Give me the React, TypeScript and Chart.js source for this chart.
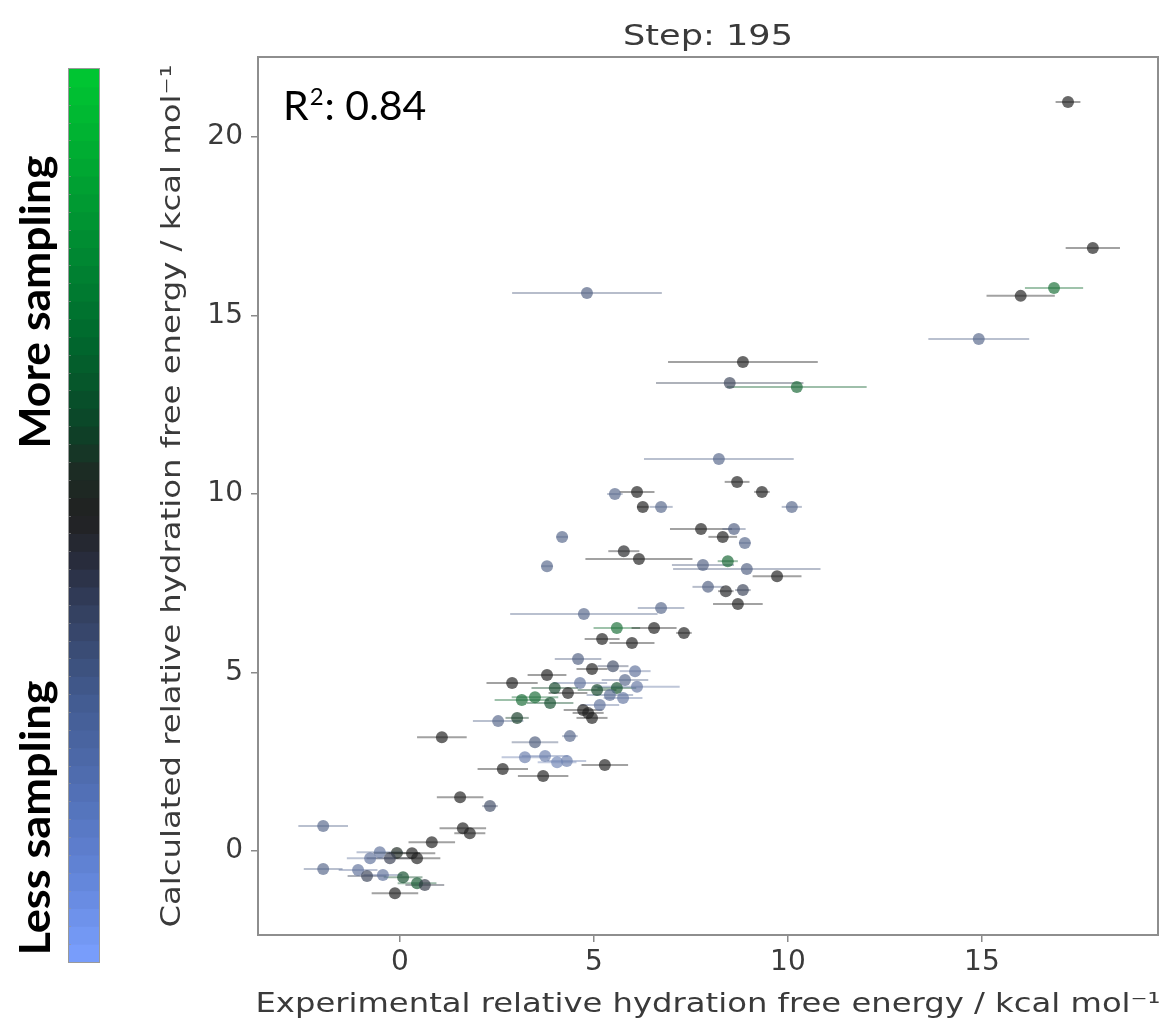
import React, { useEffect, useRef } from "react";
import { Chart, registerables } from "chart.js";

Chart.register(...registerables);

// ---------- data ----------
const expX = [
  17.22, 17.86, 16.86, 16.0, 14.92, 4.82, 8.84, 8.5, 10.23, 8.22,
  8.69, 9.33, 10.1, 5.54, 6.11, 6.26, 6.73, 4.18, 5.77, 6.16,
  3.79, 7.76, 8.61, 8.32, 8.89, 8.45, 7.81, 8.94, 9.72, 7.94,
  8.4, 8.84, 8.71, 6.73, 4.74, 5.59, 6.55, 7.32, 5.21, 5.98,
  4.59, 4.95, 5.49, 6.06, 3.79, 2.89, 4.33, 5.08, 5.59, 6.11,
  3.14, 3.87, 4.72, 4.95, 5.75, 2.53, 3.02, 1.08, 4.38, 3.48,
  3.22, 3.74, 4.3, 4.05, 5.28, 2.65, 3.69, 1.55, 2.32, -1.98,
  1.62, 1.8, 0.82, -0.52, -0.08, 0.31, -0.77, -0.26, 0.44, -1.98,
  -1.08, -0.85, -0.44, 0.08, 0.44, 0.64, -0.13, 4.85, 4.64, 5.41,
  5.8, 3.99, 3.48, 5.15,
];
const calcY = [
  20.98, 16.89, 15.77, 15.55, 14.34, 15.63, 13.7, 13.11, 13.0, 10.98,
  10.34, 10.06, 9.64, 10.0, 10.06, 9.64, 9.64, 8.8, 8.4, 8.18,
  7.98, 9.02, 9.02, 8.8, 8.63, 8.12, 8.01, 7.9, 7.7, 7.4,
  7.28, 7.31, 6.92, 6.81, 6.64, 6.25, 6.25, 6.11, 5.94, 5.83,
  5.38, 5.1, 5.18, 5.04, 4.93, 4.71, 4.43, 4.51, 4.57, 4.6,
  4.23, 4.15, 3.95, 3.73, 4.29, 3.64, 3.73, 3.19, 3.22, 3.05,
  2.63, 2.66, 2.52, 2.49, 2.41, 2.3, 2.1, 1.51, 1.26, 0.7,
  0.64, 0.5, 0.25, -0.03, -0.05, -0.06, -0.2, -0.2, -0.2, -0.5,
  -0.53, -0.7, -0.67, -0.73, -0.9, -0.95, -1.18, 3.87, 4.71, 4.37,
  4.79, 4.57, 4.31, 4.09,
];
const xErr = [
  0.32, 0.7, 0.75, 0.88, 1.3, 1.93, 1.93, 1.9, 1.8, 1.93,
  0.32, 0.2, 0.26, 0.2, 0.45, 0.15, 0.3, 0.15, 0.4, 1.38,
  0.15, 0.8, 0.3, 0.37, 0.15, 0.26, 0.8, 1.9, 0.63, 0.4,
  0.2, 0.2, 0.64, 0.6, 1.9, 0.6, 0.58, 0.2, 0.45, 0.58,
  0.6, 0.4, 0.4, 0.4, 0.5, 0.66, 0.5, 0.5, 0.5, 1.1,
  0.7, 0.6, 0.5, 0.4, 0.5, 0.65, 0.3, 0.64, 0.2, 0.6,
  0.6, 0.6, 0.5, 0.5, 0.6, 0.65, 0.65, 0.6, 0.2, 0.64,
  0.6, 0.4, 0.6, 0.6, 0.6, 0.6, 0.6, 0.6, 0.6, 0.5,
  0.5, 0.5, 0.5, 0.5, 0.5, 0.5, 0.6, 0.4, 0.7, 0.6,
  0.6, 0.6, 0.6, 0.5,
];
// 0 = less sampling (blue), 0.5 = black, 1 = more sampling (green)
const sampling = [
  0.5, 0.5, 0.82, 0.5, 0.25, 0.28, 0.5, 0.38, 0.78, 0.25,
  0.5, 0.5, 0.25, 0.25, 0.5, 0.5, 0.25, 0.25, 0.48, 0.5,
  0.25, 0.5, 0.28, 0.5, 0.25, 0.78, 0.28, 0.28, 0.5, 0.28,
  0.48, 0.38, 0.5, 0.25, 0.25, 0.82, 0.5, 0.5, 0.5, 0.5,
  0.28, 0.5, 0.35, 0.2, 0.5, 0.5, 0.5, 0.66, 0.7, 0.18,
  0.8, 0.68, 0.5, 0.5, 0.18, 0.25, 0.62, 0.5, 0.25, 0.3,
  0.15, 0.15, 0.15, 0.12, 0.5, 0.5, 0.5, 0.5, 0.35, 0.25,
  0.5, 0.5, 0.5, 0.2, 0.55, 0.5, 0.2, 0.4, 0.5, 0.25,
  0.2, 0.38, 0.2, 0.68, 0.72, 0.42, 0.5, 0.5, 0.2, 0.22,
  0.25, 0.66, 0.8, 0.2,
];

const xTicks = [0, 5, 10, 15];
const yTicks = [0, 5, 10, 15, 20];
const xRange = [-3.66, 19.54];
const yRange = [-2.35, 22.24];

const titleText = "Step: 195";
const r2Label = "R";
const r2Sup = "2";
const r2Value = ": 0.84";
const xTitle = "Experimental relative hydration free energy / kcal mol\u207B\u00B9";
const yTitle = "Calculated relative hydration free energy / kcal mol\u207B\u00B9";
const cbarHigh = "More sampling";
const cbarLow = "Less sampling";

// colormap (blue -> black -> green)
const cmapPos = [0, 0.1, 0.2, 0.3, 0.4, 0.45, 0.5, 0.55, 0.6, 0.7, 0.8, 0.9, 1];
const cmapCol = [
  [122, 160, 255], [98, 132, 215], [80, 110, 178], [66, 90, 142], [50, 62, 92],
  [40, 44, 60], [33, 33, 33], [28, 44, 36], [12, 68, 40], [0, 105, 45],
  [0, 138, 50], [0, 170, 50], [0, 200, 50],
];
const cbarSegments = 50;

function cmap(t: number): number[] {
  const v = Math.max(0, Math.min(1, t));
  for (let i = 1; i < cmapPos.length; i++) {
    if (v <= cmapPos[i]) {
      const f = (v - cmapPos[i - 1]) / (cmapPos[i] - cmapPos[i - 1]);
      const a = cmapCol[i - 1];
      const b = cmapCol[i];
      return [0, 1, 2].map((k) => Math.round(a[k] + (b[k] - a[k]) * f));
    }
  }
  return cmapCol[cmapCol.length - 1];
}
// muted version used for the markers (they look greyish in the reference)
function muted(t: number): number[] {
  const c = cmap(t);
  const g = (c[0] + c[1] + c[2]) / 3;
  return c.map((v) => Math.round(v * 0.6 + g * 0.4));
}
const rgba = (c: number[], a: number) => `rgba(${c[0]},${c[1]},${c[2]},${a})`;

function drawFitted(
  ctx: CanvasRenderingContext2D,
  text: string,
  x: number,
  y: number,
  font: string,
  targetW: number,
  rotate: boolean
) {
  ctx.save();
  ctx.font = font;
  const w = ctx.measureText(text).width;
  const sx = targetW / w;
  ctx.translate(x, y);
  if (rotate) ctx.rotate(-Math.PI / 2);
  ctx.scale(sx, 1);
  ctx.textAlign = "center";
  ctx.textBaseline = "alphabetic";
  ctx.fillText(text, 0, 0);
  ctx.restore();
}

const decorPlugin = {
  id: "decor",
  beforeDatasetsDraw(chart: any) {
    const { ctx, chartArea: a, scales } = chart;
    const xs = scales.x;
    const ys = scales.y;
    ctx.save();
    ctx.beginPath();
    ctx.rect(a.left, a.top, a.right - a.left, a.bottom - a.top);
    ctx.clip();
    ctx.lineWidth = 2;
    for (let i = 0; i < expX.length; i++) {
      const c = muted(sampling[i]);
      ctx.strokeStyle = rgba(c, 0.42);
      const py = ys.getPixelForValue(calcY[i]);
      ctx.beginPath();
      ctx.moveTo(xs.getPixelForValue(expX[i] - xErr[i]), py);
      ctx.lineTo(xs.getPixelForValue(expX[i] + xErr[i]), py);
      ctx.stroke();
    }
    ctx.restore();
  },
  afterDraw(chart: any) {
    const { ctx, chartArea: a } = chart;
    ctx.save();
    // frame
    ctx.strokeStyle = "#8e8e8e";
    ctx.lineWidth = 2;
    ctx.strokeRect(a.left, a.top, a.right - a.left, a.bottom - a.top);

    // titles
    ctx.fillStyle = "#3a3a3a";
    const cx = (a.left + a.right) / 2;
    const cy = (a.top + a.bottom) / 2;
    drawFitted(ctx, titleText, cx, 45, "29px 'DejaVu Sans'", 170, false);
    drawFitted(ctx, xTitle, cx, 1012, "27px 'DejaVu Sans'", 905, false);
    drawFitted(ctx, yTitle, 180, cy, "27px 'DejaVu Sans'", 863, true);

    // R^2 annotation
    ctx.fillStyle = "#000000";
    ctx.textAlign = "left";
    ctx.textBaseline = "alphabetic";
    ctx.font = "41px Lato";
    let tx = a.left + 25;
    ctx.fillText(r2Label, tx, 120);
    tx += ctx.measureText(r2Label).width + 1;
    ctx.font = "24px Lato";
    ctx.fillText(r2Sup, tx, 105);
    tx += ctx.measureText(r2Sup).width + 1;
    ctx.font = "41px Lato";
    ctx.fillText(r2Value, tx, 120);

    // colorbar
    const cbL = 69, cbR = 99, cbT = 69, cbB = 962;
    const segH = (cbB - cbT) / cbarSegments;
    for (let i = 0; i < cbarSegments; i++) {
      const t = (i + 0.5) / cbarSegments;
      ctx.fillStyle = rgba(cmap(t), 1);
      const yb = cbB - i * segH;
      ctx.fillRect(cbL, yb - segH - 0.5, cbR - cbL, segH + 1);
    }
    ctx.strokeStyle = "rgba(150,150,150,0.6)";
    ctx.lineWidth = 1;
    for (let i = 1; i < cbarSegments; i++) {
      const yy = Math.round(cbB - i * segH) + 0.5;
      ctx.beginPath();
      ctx.moveTo(cbL - 1, yy);
      ctx.lineTo(cbL + 2, yy);
      ctx.stroke();
    }
    ctx.strokeStyle = "#9a9a9a";
    ctx.strokeRect(cbL - 0.5, cbT - 0.5, cbR - cbL + 1, cbB - cbT + 1);

    // colorbar labels
    ctx.fillStyle = "#000000";
    drawFitted(ctx, cbarHigh, 50, 302, "bold 42px Lato", 293, true);
    drawFitted(ctx, cbarLow, 50, 818, "bold 42px Lato", 275, true);
    ctx.restore();
  },
};

export default function App() {
  const ref = useRef<HTMLCanvasElement | null>(null);

  useEffect(() => {
    if (!ref.current) return;
    const pts = expX.map((x, i) => ({ x, y: calcY[i] }));
    const colors = sampling.map((s) => rgba(muted(s), 0.68));
    const tickFont = { family: "'DejaVu Sans'", size: 28 };
    const chart = new Chart(ref.current, {
      type: "scatter",
      data: {
        datasets: [
          {
            data: pts,
            pointRadius: 6,
            pointHoverRadius: 6,
            pointBackgroundColor: colors,
            pointBorderWidth: 0,
            pointBorderColor: colors,
          },
        ],
      },
      options: {
        animation: false,
        responsive: false,
        devicePixelRatio: 1,
        layout: { padding: { left: 188, top: 57, right: 9, bottom: 26 } },
        plugins: {
          legend: { display: false },
          tooltip: { enabled: false },
          title: { display: false },
        },
        scales: {
          x: {
            type: "linear",
            min: xRange[0],
            max: xRange[1],
            afterBuildTicks: (s: any) => {
              s.ticks = xTicks.map((v) => ({ value: v }));
            },
            afterFit: (s: any) => {
              s.height = 60;
            },
            border: { display: false },
            grid: {
              drawOnChartArea: false,
              drawTicks: true,
              tickLength: 7,
              color: "#8a8a8a",
              lineWidth: 1.5,
            },
            ticks: {
              font: tickFont,
              color: "#3a3a3a",
              padding: 4,
              maxRotation: 0,
              autoSkip: false,
            },
          },
          y: {
            type: "linear",
            min: yRange[0],
            max: yRange[1],
            afterBuildTicks: (s: any) => {
              s.ticks = yTicks.map((v) => ({ value: v }));
            },
            afterFit: (s: any) => {
              s.width = 70;
            },
            border: { display: false },
            grid: {
              drawOnChartArea: false,
              drawTicks: true,
              tickLength: 7,
              color: "#8a8a8a",
              lineWidth: 1.5,
            },
            ticks: {
              font: tickFont,
              color: "#3a3a3a",
              padding: 8,
              autoSkip: false,
            },
          },
        },
      },
      plugins: [decorPlugin],
    } as any);
    return () => chart.destroy();
  }, []);

  return (
    <div
      style={{
        position: "absolute",
        left: 0,
        top: 0,
        width: 1167,
        height: 1021,
        background: "#ffffff",
        overflow: "hidden",
      }}
    >
      <canvas ref={ref} width={1167} height={1021} style={{ display: "block" }} />
    </div>
  );
}
